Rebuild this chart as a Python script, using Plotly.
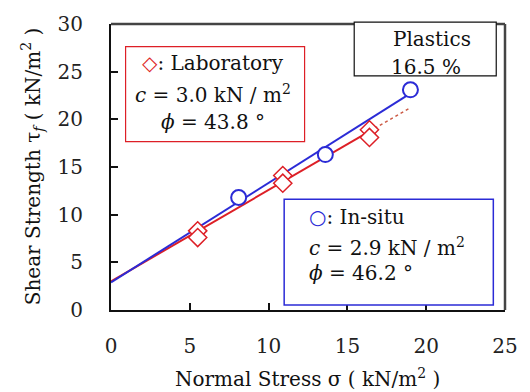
import math
import plotly.graph_objects as go

# Direct shear test results (normal stress vs. shear strength)
lab_sigma = [5.5, 5.5, 10.9, 10.9, 16.4, 16.4]
lab_tau = [8.3, 7.6, 14.1, 13.3, 18.9, 18.1]
insitu_sigma = [8.1, 13.6, 19.0]
insitu_tau = [11.8, 16.3, 23.1]

# Mohr-Coulomb strength parameters
lab_c, lab_phi = 3.0, 43.8
insitu_c, insitu_phi = 2.9, 46.2

x_ticks = [0, 5, 10, 15, 20, 25]
y_ticks = [0, 5, 10, 15, 20, 25, 30]

FONT = "DejaVu Serif"
RED = "#dd1f26"
BLUE = "#2b2bd6"

# plot area in pixels
L, R, T, B = 111, 516, 18, 310
W, H = 530, 392


def px(x):
    return (x - L) / (R - L)


def py(y):
    return (B - y) / (B - T)


def envelope(c, phi, s):
    return c + s * math.tan(math.radians(phi))


lab_end = max(lab_sigma)
ext_end = max(insitu_sigma)

fig = go.Figure()

# laboratory envelope: solid over tested range, dotted extension
fig.add_trace(go.Scatter(
    x=[0, lab_end], y=[envelope(lab_c, lab_phi, 0), envelope(lab_c, lab_phi, lab_end)],
    mode="lines", line=dict(color=RED, width=2), hoverinfo="skip"))
fig.add_trace(go.Scatter(
    x=[lab_end, ext_end],
    y=[envelope(lab_c, lab_phi, lab_end), envelope(lab_c, lab_phi, ext_end)],
    mode="lines", line=dict(color="#cc5a45", width=1.5, dash="dot"), hoverinfo="skip"))
# in-situ envelope
fig.add_trace(go.Scatter(
    x=[0, ext_end], y=[envelope(insitu_c, insitu_phi, 0), envelope(insitu_c, insitu_phi, ext_end)],
    mode="lines", line=dict(color=BLUE, width=2), hoverinfo="skip"))

fig.add_trace(go.Scatter(
    x=lab_sigma, y=lab_tau, mode="markers",
    marker=dict(symbol="diamond", size=14, color="white", line=dict(color=RED, width=1.5))))
fig.add_trace(go.Scatter(
    x=insitu_sigma, y=insitu_tau, mode="markers",
    marker=dict(symbol="circle", size=15, color="white", line=dict(color=BLUE, width=2))))

tickfont = dict(family=FONT, size=20, color="#222")
fig.update_xaxes(range=[0, 25], tickvals=x_ticks, ticks="inside", ticklen=7, tickwidth=2,
                 tickcolor="#111", showline=True, linecolor="#111", linewidth=2,
                 showgrid=False, zeroline=False, tickfont=tickfont, ticklabelstandoff=17)
fig.update_yaxes(range=[0, 30], tickvals=y_ticks, ticks="inside", ticklen=7, tickwidth=2,
                 tickcolor="#111", showline=True, linecolor="#111", linewidth=2,
                 showgrid=False, zeroline=False, tickfont=tickfont, ticklabelstandoff=22)

shapes = [
    # top and right frame
    dict(type="line", xref="paper", yref="paper", x0=0, x1=1, y0=1, y1=1,
         line=dict(color="#444", width=2.5)),
    dict(type="line", xref="paper", yref="paper", x0=1, x1=1, y0=0, y1=1,
         line=dict(color="#444", width=2.5)),
    # laboratory box
    dict(type="rect", xref="paper", yref="paper", x0=px(126), x1=px(310), y0=py(138), y1=py(41),
         line=dict(color=RED, width=1.2), fillcolor="white"),
    # in-situ box
    dict(type="rect", xref="paper", yref="paper", x0=px(289), x1=px(504), y0=py(305), y1=py(197),
         line=dict(color=BLUE, width=1.5), fillcolor="white"),
    # plastics box
    dict(type="rect", xref="paper", yref="paper", x0=px(361), x1=px(507), y0=py(71), y1=py(16),
         line=dict(color="#111", width=1.2), fillcolor="white"),
]

txt = dict(family=FONT, size=20, color="#111")


def label(text, x, y, xanchor="center"):
    return dict(text=text, xref="paper", yref="paper", x=px(x), y=py(y), xanchor=xanchor,
                yanchor="middle", showarrow=False, font=txt)


annotations = [
    label(f"<span style='color:{RED}'>◇</span>: Laboratory", 216, 58),
    label(f"<i>c</i> = {lab_c:.1f} kN / m<sup>2</sup>", 216, 89),
    label(f"<i>ϕ</i> = {lab_phi:.1f} °", 216, 118),
    label(f"<span style='color:{BLUE}'>○</span>: In-situ", 312, 215, "left"),
    label(f"<i>c</i> = {insitu_c:.1f} kN / m<sup>2</sup>", 312, 246, "left"),
    label(f"<i>ϕ</i> = {insitu_phi:.1f} °", 312, 272, "left"),
    label("Plastics", 441, 33),
    label("16.5 %", 397, 62, "left"),
    # axis titles
    dict(text="Normal Stress σ ( kN/m<sup>2</sup> )", xref="paper", yref="paper",
         x=px(313), y=py(379), xanchor="center", yanchor="middle", showarrow=False, font=txt),
    dict(text="Shear Strength τ<sub><i>f</i></sub> ( kN/m<sup>2</sup> )", xref="paper", yref="paper",
         x=px(30), y=py(163), xanchor="center", yanchor="middle", textangle=-90,
         showarrow=False, font=txt),
]

fig.update_layout(
    width=W, height=H,
    margin=dict(l=L, r=W - R, t=T, b=H - B),
    paper_bgcolor="white", plot_bgcolor="white",
    showlegend=False, shapes=shapes, annotations=annotations,
)

fig.write_html("out.html")
